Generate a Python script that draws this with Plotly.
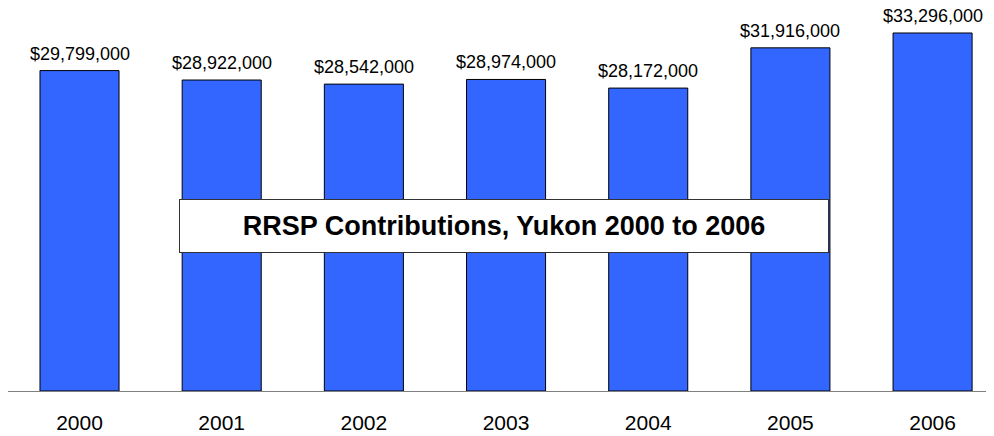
import plotly.graph_objects as go

years = ["2000", "2001", "2002", "2003", "2004", "2005", "2006"]
contributions = [29799000, 28922000, 28542000, 28974000, 28172000, 31916000, 33296000]
value_labels = ["${:,}".format(v) for v in contributions]
title_text = "RRSP Contributions, Yukon 2000 to 2006"

fig = go.Figure()
fig.add_trace(go.Bar(
    x=years, y=contributions,
    marker=dict(color="#3366FF", line=dict(color="#000000", width=1)),
    width=0.556,
    cliponaxis=False,
    hoverinfo="skip",
))

for idx, (val, lab) in enumerate(zip(contributions, value_labels)):
    fig.add_annotation(
        x=idx, y=val, xref="x", yref="y",
        text=lab, showarrow=False,
        xanchor="center", yanchor="bottom", yshift=5,
        font=dict(family="Liberation Sans, Arial", size=18, color="#000000"),
    )

fig.add_annotation(
    xref="paper", yref="paper",
    x=495.5 / 986, y=(383 - 218) / 383,
    xanchor="center", yanchor="middle",
    text="<b>" + title_text + "</b>",
    showarrow=False,
    font=dict(family="Liberation Sans, Arial", size=27, color="#000000"),
    bgcolor="#FFFFFF", bordercolor="#333333", borderwidth=1,
    width=646, height=50,
)

fig.update_layout(
    width=994, height=436,
    margin=dict(l=0, r=8, t=0, b=53),
    paper_bgcolor="#FFFFFF", plot_bgcolor="#FFFFFF",
    showlegend=False,
    xaxis=dict(
        type="category", range=[-0.503, 6.432],
        showline=True, linecolor="#808080", linewidth=1,
        showgrid=False, ticks="", ticklen=0,
        ticklabelstandoff=13,
        tickfont=dict(family="Liberation Sans, Arial", size=21, color="#000000"),
        automargin=False,
    ),
    yaxis=dict(
        range=[0, 35620000], visible=False, showgrid=False, zeroline=False,
    ),
)

fig.write_html("out.html")
